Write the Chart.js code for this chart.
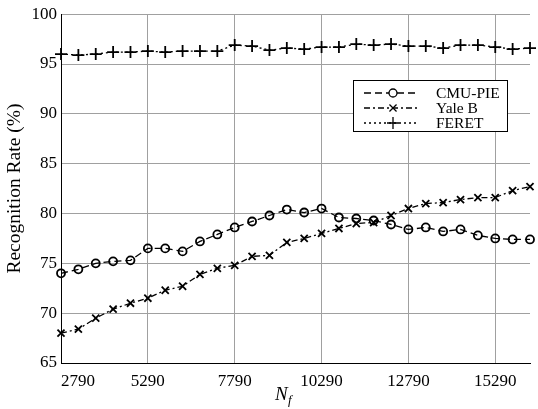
<!DOCTYPE html>
<html>
<head>
<meta charset="utf-8">
<script src="https://cdn.jsdelivr.net/npm/chart.js@4.4.0/dist/chart.umd.min.js"></script>
<style>
    html, body { margin: 0; padding: 0; background: #fff; }
</style>
</head>
<body>
<canvas id="chart" width="538" height="409"></canvas>
<script>
// N_f values (x axis)
var nf = [2790, 3290, 3790, 4290, 4790, 5290, 5790, 6290, 6790, 7290,
          7790, 8290, 8790, 9290, 9790, 10290, 10790, 11290, 11790, 12290,
          12790, 13290, 13790, 14290, 14790, 15290, 15790, 16290];
var xTicks = [2790, 5290, 7790, 10290, 12790, 15290, 16290];

// recognition rates (%)
var cmuPie = [74.0, 74.4, 75.0, 75.2, 75.3, 76.5, 76.5, 76.2, 77.2, 77.9,
              78.6, 79.2, 79.8, 80.4, 80.1, 80.5, 79.6, 79.5, 79.3, 78.9,
              78.4, 78.6, 78.2, 78.4, 77.8, 77.5, 77.4, 77.4];
var yaleB = [68.0, 68.4, 69.5, 70.4, 71.0, 71.5, 72.3, 72.7, 73.9, 74.5,
             74.8, 75.7, 75.8, 77.1, 77.5, 78.0, 78.5, 79.0, 79.1, 79.8,
             80.5, 81.0, 81.1, 81.4, 81.6, 81.6, 82.3, 82.7];
var feret = [96.0, 95.9, 96.0, 96.2, 96.2, 96.3, 96.2, 96.3, 96.3, 96.3,
             96.9, 96.8, 96.4, 96.6, 96.5, 96.7, 96.7, 97.0, 96.9, 97.0,
             96.8, 96.8, 96.6, 96.9, 96.9, 96.7, 96.5, 96.6];

var serif = "'Liberation Serif', 'Times New Roman', serif";
var gridGray = '#a0a0a0';

function toPoints(values) {
    return values.map(function (v, i) { return { x: nf[i], y: v }; });
}

// Legend drawn by hand so each entry shows line style + marker
var boxLegend = {
    id: 'boxLegend',
    afterDraw: function (chart) {
        var ctx = chart.ctx;
        ctx.save();
        ctx.fillStyle = '#fff';
        ctx.strokeStyle = '#000';
        ctx.lineWidth = 1;
        ctx.fillRect(353.5, 80.5, 154, 51);
        ctx.strokeRect(353.5, 80.5, 154, 51);
        chart.data.datasets.forEach(function (ds, i) {
            var y = 93 + i * 15;
            ctx.setLineDash(ds.borderDash);
            ctx.lineWidth = ds.borderWidth;
            ctx.beginPath();
            ctx.moveTo(364, y);
            ctx.lineTo(418, y);
            ctx.stroke();
            ctx.setLineDash([]);
            ctx.fillStyle = '#fff';
            Chart.helpers.drawPoint(ctx, {
                pointStyle: ds.pointStyle,
                radius: ds.pointRadius,
                rotation: 0,
                borderWidth: ds.pointBorderWidth
            }, 393, y);
            ctx.fillStyle = '#000';
            ctx.font = '15.5px ' + serif;
            ctx.textAlign = 'left';
            ctx.textBaseline = 'middle';
            ctx.fillText(ds.label, 436, y + 1);
        });

        // x axis title N_f
        ctx.fillStyle = '#000';
        ctx.textBaseline = 'alphabetic';
        ctx.font = 'italic 19px ' + serif;
        ctx.fillText('N', 275, 400);
        ctx.font = 'italic 13px ' + serif;
        ctx.fillText('f', 288, 404);
        ctx.restore();
    }
};

new Chart(document.getElementById('chart'), {
    type: 'line',
    data: {
        datasets: [{
            label: 'CMU-PIE',
            data: toPoints(cmuPie),
            borderColor: '#000',
            borderWidth: 1.3,
            borderDash: [7, 4],
            pointStyle: 'circle',
            pointRadius: 4,
            pointBorderWidth: 1.8,
            pointBorderColor: '#000',
            pointBackgroundColor: 'transparent',
            clip: false
        }, {
            label: 'Yale B',
            data: toPoints(yaleB),
            borderColor: '#000',
            borderWidth: 1.3,
            borderDash: [6, 3, 2, 3],
            pointStyle: 'crossRot',
            pointRadius: 5,
            pointBorderWidth: 1.8,
            pointBorderColor: '#000',
            clip: false
        }, {
            label: 'FERET',
            data: toPoints(feret),
            borderColor: '#000',
            borderWidth: 1.3,
            borderDash: [2, 3],
            pointStyle: 'cross',
            pointRadius: 6,
            pointBorderWidth: 1.8,
            pointBorderColor: '#000',
            clip: false
        }]
    },
    options: {
        responsive: false,
        animation: false,
        layout: { padding: { top: 10, right: 5, left: 0, bottom: 0 } },
        plugins: {
            legend: { display: false },
            tooltip: { enabled: false }
        },
        scales: {
            x: {
                type: 'linear',
                min: 2790,
                max: 16290,
                afterBuildTicks: function (scale) {
                    scale.ticks = xTicks.map(function (v) { return { value: v }; });
                },
                afterFit: function (scale) { scale.height = 46; },
                ticks: {
                    align: 'inner',
                    color: '#000',
                    padding: 8,
                    maxRotation: 0,
                    autoSkip: false,
                    font: { family: serif, size: 17 },
                    callback: function (v) { return v === 16290 ? '' : String(v); }
                },
                grid: {
                    color: function (ctx) {
                        return ctx.tick && ctx.tick.value === 16290 ? 'transparent' : gridGray;
                    },
                    drawTicks: false
                },
                border: { color: '#000', width: 1 }
            },
            y: {
                min: 65,
                max: 100,
                afterFit: function (scale) { scale.width = 61; },
                ticks: {
                    stepSize: 5,
                    color: '#000',
                    padding: 4,
                    font: { family: serif, size: 17 }
                },
                grid: { color: gridGray, drawTicks: false },
                border: { color: '#000', width: 1 },
                title: {
                    display: true,
                    text: 'Recognition Rate (%)',
                    color: '#000',
                    font: { family: serif, size: 19.5 },
                    padding: { top: 3, bottom: 0 }
                }
            }
        }
    },
    plugins: [boxLegend]
});
</script>
</body>
</html>
